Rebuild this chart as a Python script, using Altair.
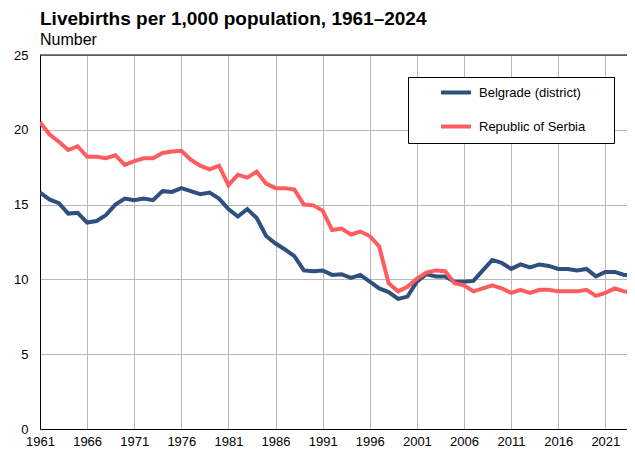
import altair as alt
import pandas as pd

years = list(range(1961, 2025))
belgrade = [15.8, 15.35, 15.1, 14.4, 14.45, 13.8, 13.9, 14.3, 15.0, 15.4,
            15.3, 15.4, 15.3, 15.9, 15.85, 16.1, 15.9, 15.7, 15.8, 15.4,
            14.7, 14.2, 14.7, 14.1, 12.9, 12.4, 12.0, 11.55, 10.6, 10.55,
            10.6, 10.3, 10.35, 10.1, 10.3, 9.85, 9.4, 9.15, 8.7, 8.85,
            9.85, 10.35, 10.2, 10.2, 9.85, 9.85, 9.9, 10.6, 11.3, 11.1,
            10.7, 11.0, 10.8, 11.0, 10.9, 10.7, 10.7, 10.6, 10.7, 10.2,
            10.5, 10.5, 10.3, 10.3]
serbia = [20.5, 19.7, 19.2, 18.65, 18.9, 18.2, 18.2, 18.1, 18.3, 17.65,
          17.9, 18.1, 18.1, 18.45, 18.55, 18.6, 18.0, 17.6, 17.35, 17.6,
          16.3, 17.0, 16.8, 17.2, 16.4, 16.1, 16.1, 16.0, 15.0, 14.95,
          14.6, 13.3, 13.4, 13.0, 13.2, 12.9, 12.2, 9.75, 9.2, 9.5,
          10.05, 10.45, 10.6, 10.55, 9.75, 9.6, 9.2, 9.4, 9.6, 9.4,
          9.1, 9.3, 9.1, 9.3, 9.3, 9.2, 9.2, 9.2, 9.3, 8.9,
          9.1, 9.4, 9.2, 9.1]
series_names = ["Belgrade (district)", "Republic of Serbia"]
colors = ["#2f4f7f", "#ff5c5f"]
x_ticks = list(range(1961, 2022, 5))
y_ticks = [0, 5, 10, 15, 20, 25]
title_text = "Livebirths per 1,000 population, 1961\u20132024"
subtitle_text = "Number"

df = pd.DataFrame({
    "year": years * 2,
    "value": belgrade + serbia,
    "series": [series_names[0]] * len(years) + [series_names[1]] * len(years),
})
top_df = pd.DataFrame({"v": [max(y_ticks)]})

FONT = "Liberation Sans"
GRID = "#b8b8b8"

x_enc = alt.X(
    "year:Q",
    scale=alt.Scale(domain=[1961, 2023.3], nice=False, zero=False),
    axis=alt.Axis(values=x_ticks, format="d", title=None, grid=True,
                  gridColor=GRID, gridWidth=1, ticks=False, labelPadding=6,
                  domainColor="black", domainWidth=1, labelFlush=False,
                  labelOverlap=False, labelFont=FONT, labelFontSize=13,
                  labelColor="black"),
)
y_enc = alt.Y(
    "value:Q",
    scale=alt.Scale(domain=[0, 25], nice=False),
    axis=alt.Axis(values=y_ticks, title=None, grid=True, gridColor=GRID,
                  gridWidth=1, ticks=False, labelPadding=12,
                  domainColor="black", domainWidth=1, labelFont=FONT,
                  labelFontSize=13, labelColor="black"),
)

lines = alt.Chart(df).mark_line(strokeWidth=4, clip=True).encode(
    x=x_enc,
    y=y_enc,
    color=alt.Color(
        "series:N",
        scale=alt.Scale(domain=series_names, range=colors),
        legend=alt.Legend(
            title="\u00a0", titleOrient="right", titlePadding=20,
            titleFontSize=13, titleFont=FONT,
            orient="none", legendX=368, legendY=22,
            direction="vertical", symbolType="stroke", symbolSize=900,
            symbolStrokeWidth=4, labelFontSize=13, labelFont=FONT,
            labelColor="black", labelOffset=6, padding=9, rowPadding=20,
            clipHeight=13, symbolOffset=22, strokeColor="black",
            fillColor="white",
        ),
    ),
)

top_rule = alt.Chart(top_df).mark_rule(color="black", strokeWidth=1).encode(
    y=alt.Y("v:Q")
)

chart = alt.layer(lines, top_rule).properties(
    width=587,
    height=374,
    padding={"left": 32, "top": 47, "right": 0, "bottom": 20},
    autosize=alt.AutoSizeParams(type="none"),
    title=alt.TitleParams(
        text=title_text, subtitle=subtitle_text, anchor="start", frame="group",
        font=FONT, fontSize=19, fontWeight="bold", color="black",
        subtitleFont=FONT, subtitleFontSize=16, subtitleColor="black",
        subtitlePadding=3, offset=1,
    ),
).configure_view(stroke=None)

chart.save("out.html", embed_options={"renderer": "svg", "actions": False})
